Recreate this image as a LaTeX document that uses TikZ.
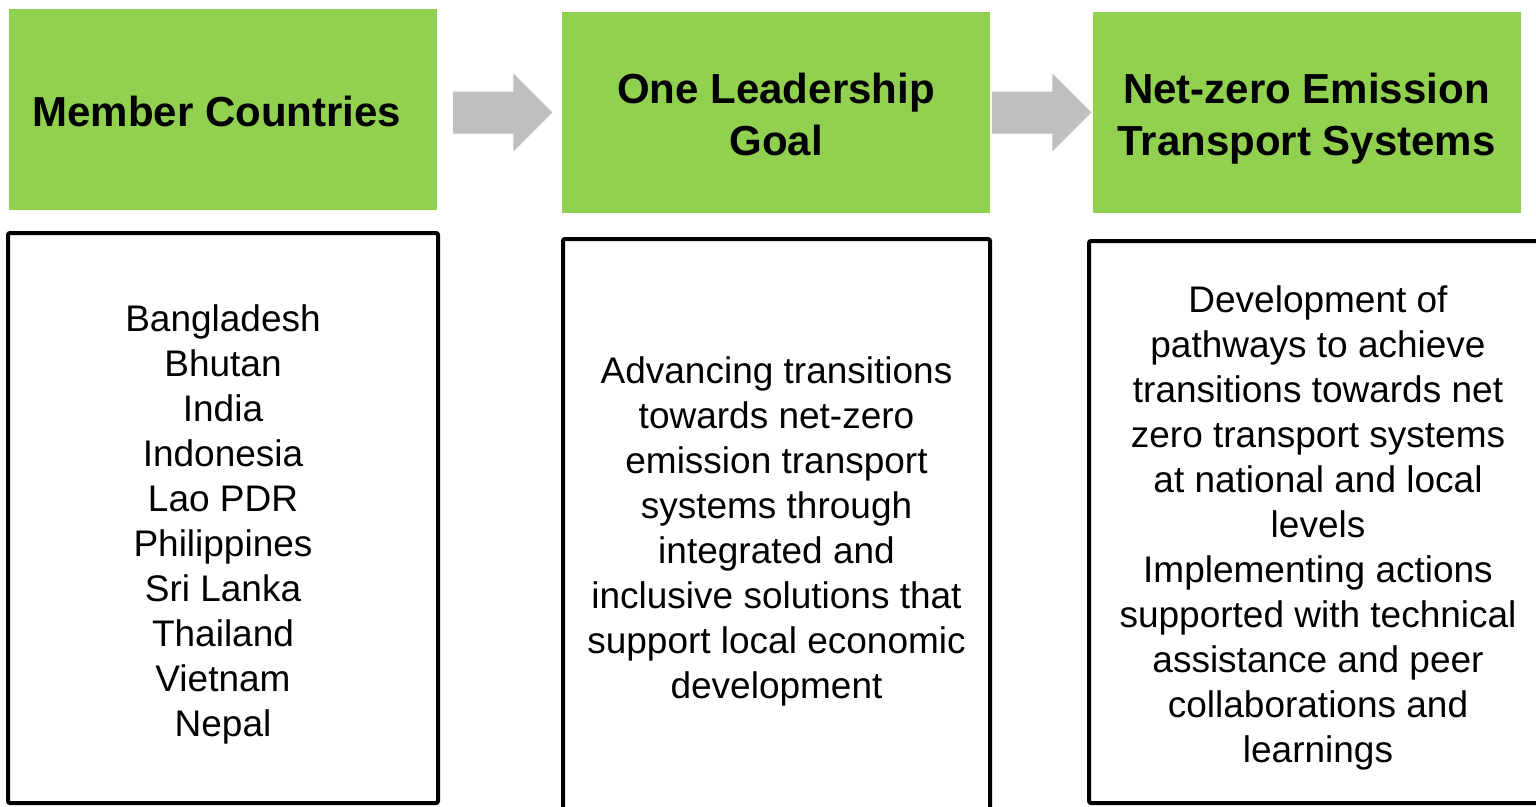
\documentclass[tikz,border=0pt]{standalone}
\usepackage{fontspec}
\setmainfont{Liberation Sans}
\usetikzlibrary{shapes,positioning}
\definecolor{leafgreen}{HTML}{92D050}
\definecolor{arrowgray}{HTML}{BFBFBF}

\tikzset{
  headbox/.style={fill=leafgreen, minimum width=428pt, minimum height=201pt,
                  inner sep=0pt},
  headtext/.style={align=center, inner sep=0pt,
                   font=\fontsize{42}{52}\selectfont\bfseries},
  bodybox/.style={draw, line width=4pt, rounded corners=2pt, inner sep=0pt},
  bodytext/.style={align=center, inner sep=0pt,
                   font=\fontsize{37}{45}\selectfont},
  flowarrow/.style={single arrow, fill=arrowgray, draw=white, line width=1pt,
                    minimum height=101pt, inner xsep=0pt, inner ysep=21pt,
                    single arrow head extend=19pt}
}

\begin{document}
\begin{tikzpicture}[x=1pt,y=-1pt]
  \useasboundingbox (0,0) rectangle (1536,806);

  % green title boxes
  \node[headbox] (member) at (223,109.5) {};
  \node[headbox] (goal) at (776,112.5) {};
  \node[headbox] (netzero) at (1306.5,112.5) {};
  \node[headtext] (member-t) at ([xshift=-6pt,yshift=-2pt]member.center) {Member Countries};
  \node[headtext] (goal-t) at ([yshift=-2pt]goal.center) {One Leadership\\Goal};
  \node[headtext] (netzero-t) at ([yshift=-6pt]netzero.center) {Net-zero Emission\\Transport Systems};

  \node[flowarrow] (arrA) at (492,112.5) {};
  \node[flowarrow] (arrB) at (1031,112.5) {};

  % framed boxes below
  \node[bodybox, minimum width=430pt, minimum height=570pt] (countries) at (223,518) {};
  \node[bodybox, minimum width=427pt, minimum height=576pt] (advancing) at (776.5,527) {};
  \node[bodybox, minimum width=458pt, minimum height=562pt] (pathways) at (1318,522) {};

  \node[bodytext] (countries-t) at ([yshift=-6pt]countries.center)
    {Bangladesh\\Bhutan\\India\\Indonesia\\Lao PDR\\Philippines\\Sri Lanka\\Thailand\\Vietnam\\Nepal};
  \node[bodytext] (advancing-t) at ([yshift=-4pt]advancing.center)
    {Advancing transitions\\towards net-zero\\emission transport\\systems through\\integrated and\\inclusive solutions that\\support local economic\\development};
  \node[bodytext] (pathways-t) at ([yshift=-6pt]pathways.center)
    {Development of\\pathways to achieve\\transitions towards net\\zero transport systems\\at national and local\\levels\\Implementing actions\\supported with technical\\assistance and peer\\collaborations and\\learnings};
\end{tikzpicture}
\end{document}
